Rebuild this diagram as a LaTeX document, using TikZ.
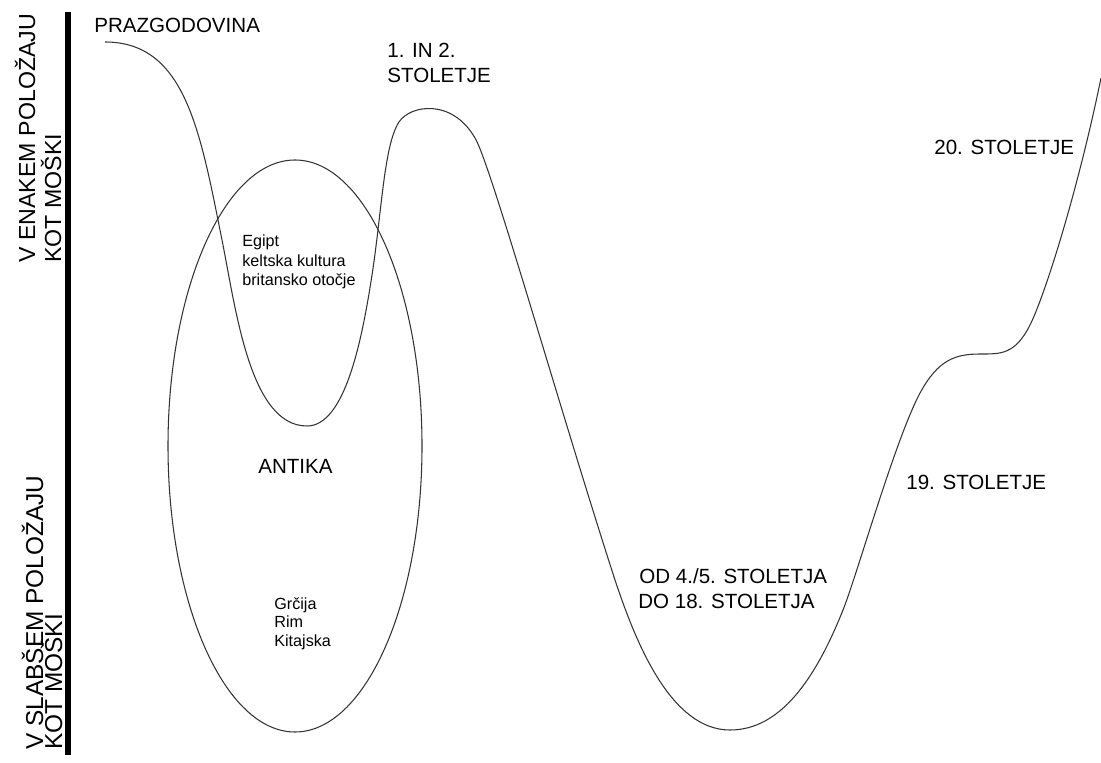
\documentclass[tikz,border=0pt]{standalone}
\usepackage{fontspec}
\setmainfont{Liberation Sans}

\tikzset{
  lbl/.style={inner sep=0pt, anchor=base west, font=\fontsize{11.7}{14}\selectfont},
  mali/.style={inner sep=0pt, anchor=base west, font=\fontsize{9.2}{11}\selectfont},
  oslbl/.style={inner sep=0pt, anchor=base west, rotate=90, font=\fontsize{13.2}{16}\selectfont},
  trend/.style={line width=0.6pt, black!80},
}

\begin{document}
\begin{tikzpicture}[x=0.02cm, y=-0.02cm]
    \useasboundingbox (0,0) rectangle (1101,763);
    % \draw[help lines, step=50] (0,0) grid (1101,763);

    % os
    \coordinate (osTop) at (68,12);
    \coordinate (osBot) at (68,755);
    \draw[line width=3.4pt] (osTop) -- (osBot);

    \node (enakA) [oslbl] at (35,263) {V ENAKEM POLOŽAJU};
    \node (enakB) [oslbl] at (61,263) {KOT MOŠKI};
    \node (slabA) [oslbl, font=\fontsize{13.9}{16}\selectfont] at (43,750) {V SLABŠEM POLOŽAJU};
    \node (slabB) [oslbl, font=\fontsize{13.9}{16}\selectfont] at (62,750) {KOT MOŠKI};

    % obdobja
    \node (prazg) [lbl] at (94,32.5) {PRAZGODOVINA};
    \node (st12a) [lbl] at (387,58) {1. IN 2.};
    \node (st12b) [lbl] at (387,83) {STOLETJE};
    \node (st20) [lbl] at (934,155) {20. STOLETJE};
    \node (st19) [lbl] at (906,489) {19. STOLETJE};
    \node (srednjiA) [lbl] at (639,583) {OD 4./5. STOLETJA};
    \node (srednjiB) [lbl] at (638,608) {DO 18. STOLETJA};
    \node (antika) [lbl] at (258,473) {ANTIKA};

    \node (egipt) [mali] at (242,247) {Egipt};
    \node (kelti) [mali] at (242,266.5) {keltska kultura};
    \node (britan) [mali] at (242,285.5) {britansko otočje};
    \node (grcija) [mali] at (274,609) {Grčija};
    \node (rim) [mali] at (274,627.5) {Rim};
    \node (kitaj) [mali] at (274,646) {Kitajska};

    % antika
    \draw[trend] (295,446) ellipse [x radius=127, y radius=286];

    % polozaj skozi cas
    \draw[trend] (105,42)
        .. controls (185,42) and (200,130) .. (222,240)
        .. controls (236,310) and (250,426) .. (307,426)
        .. controls (345,426) and (362,340) .. (372,275)
        .. controls (382,210) and (384,145) .. (399,122)
        .. controls (410,105) and (452,98) .. (475,138)
        .. controls (490,162) and (560,410) .. (615,580)
        .. controls (635,640) and (670,730) .. (730,730)
        .. controls (780,730) and (815,680) .. (843,610)
        .. controls (857,575) and (895,440) .. (920,393)
        .. controls (938,360) and (955,354) .. (980,354)
        .. controls (1000,354) and (1015,355) .. (1030,325)
        .. controls (1045,295) and (1078,190) .. (1101,78);

\end{tikzpicture}
\end{document}
